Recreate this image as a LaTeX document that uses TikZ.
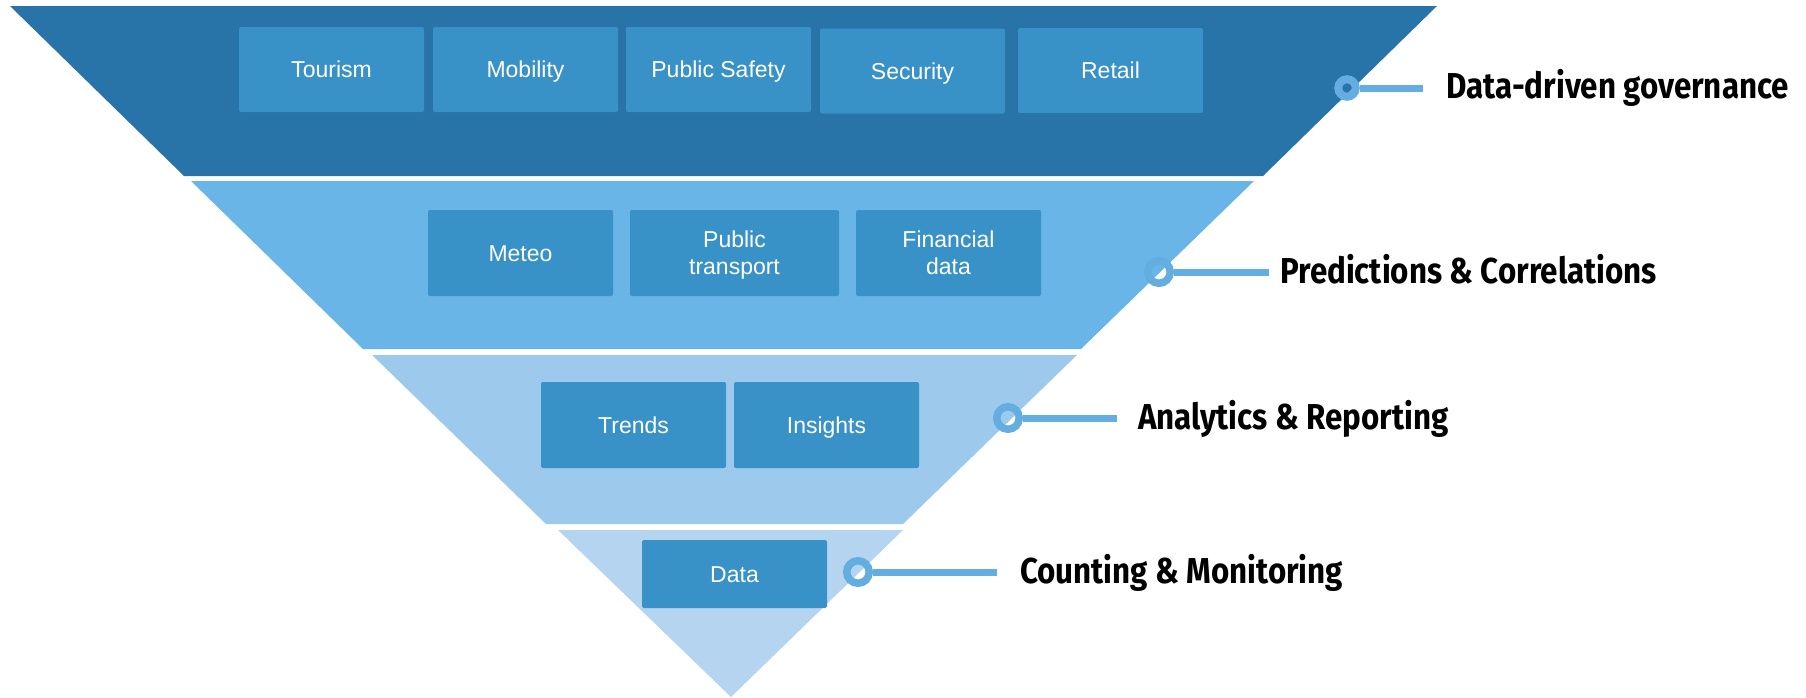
\documentclass[tikz,border=0pt]{standalone}
\usepackage{fontspec}
\setmainfont{Liberation Sans}
\newfontfamily\tagfont[FakeStretch=0.87]{Fira Sans}
\usetikzlibrary{positioning}

\definecolor{layerA}{RGB}{40,115,168}
\definecolor{layerB}{RGB}{105,181,231}
\definecolor{layerC}{RGB}{157,201,236}
\definecolor{layerD}{RGB}{181,212,240}
\definecolor{tileblue}{RGB}{56,145,199}
\definecolor{ringblue}{RGB}{100,173,225}

\tikzset{
    tile/.style={fill=tileblue, rounded corners=2pt, text=white, inner sep=0pt,
        font=\fontsize{23}{27}\selectfont, align=center,
        minimum width=185pt, minimum height=85pt},
    oneline/.style={text height=16.5pt, text depth=0pt},
    ring/.style={circle, draw=ringblue, line width=7.5pt, minimum size=22.5pt, inner sep=0pt},
    link/.style={draw=ringblue, line width=7pt},
    tag/.style={anchor=base west, inner sep=0pt, font=\tagfont\bfseries\fontsize{36}{40}\selectfont}
}

\begin{document}
\begin{tikzpicture}[x=1pt,y=-1pt]
        \useasboundingbox (0,0) rectangle (1806,697);

        % funnel layers
        \fill[layerA] (10,6) -- (1437,6) -- (1263,176) -- (184,176) -- cycle;
        \fill[layerB] (191,181) -- (1254,181) -- (1081,349) -- (363,349) -- cycle;
        \fill[layerC] (372,355) -- (1077,355) -- (903,524) -- (546,524) -- cycle;
        \fill[layerD] (558,530) -- (903,530) -- (731,697) -- cycle;

        \draw (331.5,69.5) node[tile,oneline](tourism) {Tourism};
        \draw (525.5,69.5) node[tile,oneline](mobility) {Mobility};
        \draw (718.5,69.5) node[tile,oneline](safety) {Public Safety};
        \draw (912.5,71) node[tile,oneline](security) {Security};
        \draw (1110.5,70.5) node[tile,oneline](retail) {Retail};

        \draw (520.5,253) node[tile,oneline,minimum height=86pt](meteo) {Meteo};
        \draw (734.5,253) node[tile,text depth=0pt,minimum height=86pt,minimum width=209pt](transport) {Public\\transport};
        \draw (948.5,253) node[tile,text depth=0pt,minimum height=86pt](financial) {Financial\\data};

        \draw (633.5,425) node[tile,oneline,minimum height=86pt](trends) {Trends};
        \draw (826.5,425) node[tile,oneline,minimum height=86pt](insights) {Insights};

        \draw (734.5,574) node[tile,oneline,minimum height=68pt](data) {Data};

        % markers and labels
        \draw (1347,88) node[ring,line width=8pt,minimum size=17.5pt](dotA) {};
        \draw (1159,272) node[ring](dotB) {};
        \draw (1008,418) node[ring](dotC) {};
        \draw (858,572) node[ring](dotD) {};

        \coordinate (endA) at (1423,88);
        \coordinate (endB) at (1269,272);
        \coordinate (endC) at (1117,418);
        \coordinate (endD) at (997,572);

        \draw[link] (dotA) -- (endA);
        \draw[link] (dotB) -- (endB);
        \draw[link] (dotC) -- (endC);
        \draw[link] (dotD) -- (endD);

        \draw (1446,98) node[tag](labA) {Data-driven governance};
        \draw (1280,283) node[tag](labB) {Predictions \& Correlations};
        \draw (1138,429) node[tag](labC) {Analytics \& Reporting};
        \draw (1020,583) node[tag](labD) {Counting \& Monitoring};
    \end{tikzpicture}
\end{document}
